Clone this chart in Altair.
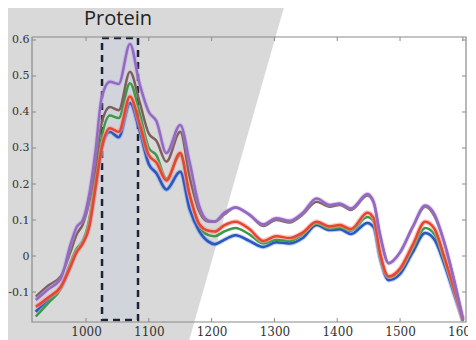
import altair as alt
import pandas as pd

# ---- data ----
wavenumber = [920, 940, 960, 975, 985, 995, 1005, 1015, 1025, 1038, 1052, 1070, 1085, 1100,
              1112, 1128, 1150, 1165, 1180, 1195, 1205, 1220, 1238, 1260, 1282, 1303, 1324,
              1345, 1367, 1388, 1404, 1422, 1448, 1458, 1468, 1482, 1500, 1520, 1540, 1555,
              1570, 1585, 1600]

purple = [-0.122, -0.092, -0.062, 0.03, 0.08, 0.10, 0.17, 0.29, 0.44, 0.484, 0.478, 0.589, 0.48, 0.40,
          0.375, 0.286, 0.364, 0.26, 0.14, 0.098, 0.096, 0.12, 0.135, 0.115, 0.088, 0.105, 0.098,
          0.12, 0.16, 0.142, 0.146, 0.132, 0.172, 0.15, 0.06, -0.02, 0.01, 0.08, 0.14, 0.115,
          0.04, -0.06, -0.175]
brown = [-0.113, -0.082, -0.055, 0.01, 0.06, 0.088, 0.15, 0.25, 0.37, 0.414, 0.405, 0.512, 0.43, 0.34,
         0.32, 0.262, 0.345, 0.22, 0.125, 0.095, 0.095, 0.115, 0.135, 0.115, 0.083, 0.10, 0.093,
         0.115, 0.151, 0.137, 0.142, 0.128, 0.168, 0.148, 0.06, -0.02, 0.01, 0.08, 0.137, 0.11,
         0.04, -0.06, -0.175]
green = [-0.168, -0.13, -0.09, -0.02, 0.02, 0.04, 0.10, 0.21, 0.33, 0.39, 0.383, 0.48, 0.40, 0.30,
         0.28, 0.215, 0.28, 0.17, 0.085, 0.058, 0.055, 0.068, 0.078, 0.06, 0.035, 0.045, 0.042,
         0.06, 0.09, 0.076, 0.08, 0.07, 0.108, 0.095, 0.0, -0.06, -0.04, 0.02, 0.078, 0.06,
         -0.01, -0.09, -0.18]
red = [-0.141, -0.115, -0.085, -0.03, 0.01, 0.035, 0.08, 0.19, 0.30, 0.355, 0.345, 0.443, 0.37, 0.28,
       0.26, 0.21, 0.286, 0.17, 0.09, 0.07, 0.068, 0.085, 0.095, 0.075, 0.042, 0.055, 0.05,
       0.065, 0.095, 0.082, 0.086, 0.075, 0.12, 0.105, 0.01, -0.057, -0.035, 0.03, 0.095, 0.075,
       0.0, -0.085, -0.178]
blue = [-0.155, -0.12, -0.088, -0.03, 0.015, 0.04, 0.085, 0.19, 0.30, 0.345, 0.33, 0.425, 0.35, 0.255,
        0.23, 0.185, 0.234, 0.13, 0.07, 0.04, 0.033, 0.045, 0.058, 0.042, 0.025, 0.038, 0.035,
        0.05, 0.086, 0.072, 0.074, 0.061, 0.092, 0.08, -0.005, -0.067, -0.05, 0.01, 0.064, 0.045,
        -0.02, -0.10, -0.18]

x_ticks = [1000, 1100, 1200, 1300, 1400, 1500, 1600]
y_ticks = [-0.1, 0, 0.1, 0.2, 0.3, 0.4, 0.5, 0.6]
box_range = [1025.5, 1082.8]
title_text = ["Protein"]

# gray background band (diagonal edge), in data units
band_y = [0.711, -0.26]
band_left = [850, 850]
band_right = [1318.5, 1160.0]

W, H = 434, 285
xs = alt.Scale(domain=[914, 1605], nice=False, zero=False)
ys = alt.Scale(domain=[-0.1833, 0.6083], nice=False, zero=False)

GRAY = "#d9d9d9"
AXC = "#8a8a8a"
SERIF = "DejaVu Serif"

band = alt.Chart(pd.DataFrame({"y": band_y, "x": band_left, "x2": band_right})).mark_area(
    orient="horizontal", color=GRAY, clip=False
).encode(
    y=alt.Y("y:Q", scale=ys, axis=alt.Axis(
        values=y_ticks, ticks=False, domain=False, grid=False,
        labelFont=SERIF, labelFontSize=11, labelColor="#333333", labelPadding=3, title=None,
        labelExpr="datum.value < 0 ? '-' + format(-datum.value, '~g') : format(datum.value, '~g')",
        zindex=1)),
    x=alt.X("x:Q", scale=xs, axis=alt.Axis(
        values=x_ticks, ticks=False, domain=False, grid=False,
        labelFont=SERIF, labelFontSize=12, labelColor="#333333", labelPadding=4, title=None,
        format="d", zindex=1)),
    x2="x2:Q",
)

box = alt.Chart(pd.DataFrame({"a": [box_range[0]], "b": [box_range[1]]})).mark_rect(
    fill="#d1d5db", stroke="#1c2238", strokeWidth=2.5, strokeDash=[7, 5]
).encode(
    x=alt.X("a:Q", scale=xs), x2="b:Q", y=alt.value(1), y2=alt.value(283)
)

def line_layer(vals, color, width=2.5, opacity=1.0):
    d = pd.DataFrame({"w": wavenumber, "v": vals})
    return alt.Chart(d).mark_line(interpolate="monotone", color=color, strokeWidth=width,
                                  opacity=opacity, clip=True).encode(
        x=alt.X("w:Q", scale=xs), y=alt.Y("v:Q", scale=ys)
    )

lines = [
    line_layer(blue, "#3a78e0", 4.5, 0.35),
    line_layer(blue, "#2b55c0"),
    line_layer(green, "#3a9a48"),
    line_layer(red, "#f2a0a0", 5, 0.6),
    line_layer(red, "#e8452e"),
    line_layer(brown, "#7e5f5c"),
    line_layer(purple, "#b89be0", 4.5, 0.4),
    line_layer(purple, "#9369c4"),
]

xt = pd.DataFrame({"v": x_ticks})
yt = pd.DataFrame({"v": y_ticks})
tick_b = alt.Chart(xt).mark_rule(color=AXC).encode(x=alt.X("v:Q", scale=xs), y=alt.value(H), y2=alt.value(H - 4))
tick_t = alt.Chart(xt).mark_rule(color=AXC).encode(x=alt.X("v:Q", scale=xs), y=alt.value(0), y2=alt.value(4))
tick_l = alt.Chart(yt).mark_rule(color=AXC).encode(y=alt.Y("v:Q", scale=ys), x=alt.value(0), x2=alt.value(4))
tick_r = alt.Chart(yt).mark_rule(color=AXC).encode(y=alt.Y("v:Q", scale=ys), x=alt.value(W), x2=alt.value(W - 4))

frame = alt.Chart(pd.DataFrame({"k": [0]})).mark_rect(fill=None, stroke=AXC, strokeWidth=1.2).encode(
    x=alt.value(0), x2=alt.value(W), y=alt.value(0), y2=alt.value(H)
)

title = alt.Chart(pd.DataFrame({"t": title_text})).mark_text(
    font="Open Sans", fontSize=20, color="#222222", align="center", baseline="alphabetic", clip=False
).encode(text="t:N", x=alt.value(86), y=alt.value(-12))

chart = alt.layer(band, box, *lines, tick_b, tick_t, tick_l, tick_r, frame, title).properties(
    width=W, height=H,
    autosize=alt.AutoSizeParams(type="none"),
    padding={"left": 24, "top": 29, "right": 2, "bottom": 18},
).configure_view(stroke=None)

chart.save("out.html", embed_options={"renderer": "svg", "actions": False})
